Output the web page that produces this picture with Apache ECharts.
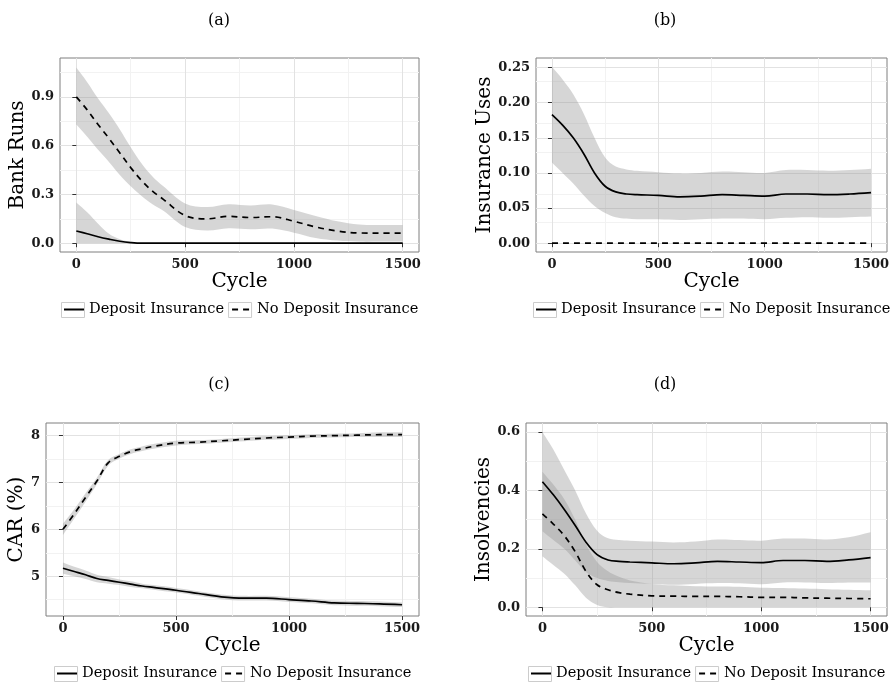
<!DOCTYPE html>
<html><head><meta charset="utf-8">
<script src="https://cdn.jsdelivr.net/npm/echarts@6/dist/echarts.min.js"></script>
<style>html,body{margin:0;padding:0;background:#fff}#c{width:893px;height:687px}</style>
</head><body><div id="c"></div>
<script>
// ---------- data ----------
const cycles = [0,50,100,150,200,250,300,350,400,500,600,700,800,900,1000,1100,1200,1300,1400,1500];
const xTicks = [0,500,1000,1500];
const xMinor = [250,750,1250];
const seriesNames = ['Deposit Insurance','No Deposit Insurance'];

// (a) Bank Runs
const runsDI      = [0.075,0.058,0.040,0.025,0.012,0.004,0,0,0,0,0,0,0,0,0,0,0,0,0,0];
const runsDILow   = [0,0,0,0,0,0,0,0,0,0,0,0,0,0,0,0,0,0,0,0];
const runsDIHigh  = [0.25,0.19,0.12,0.058,0.025,0.008,0,0,0,0,0,0,0,0,0,0,0,0,0,0];
const runsNoDI     = [0.90,0.82,0.73,0.645,0.555,0.465,0.385,0.32,0.27,0.17,0.15,0.165,0.158,0.163,0.135,0.10,0.075,0.063,0.062,0.062];
const runsNoDILow  = [0.73,0.655,0.575,0.50,0.42,0.35,0.29,0.24,0.20,0.10,0.078,0.092,0.086,0.09,0.065,0.032,0.016,0.01,0.01,0.01];
const runsNoDIHigh = [1.08,0.99,0.89,0.80,0.70,0.59,0.49,0.41,0.35,0.245,0.222,0.24,0.232,0.238,0.205,0.168,0.135,0.115,0.112,0.112];
const runsTicks = [0,0.3,0.6,0.9];
const runsMinor = [0.15,0.45,0.75,1.05];

// (b) Insurance Uses
const usesDI     = [0.183,0.168,0.150,0.127,0.100,0.081,0.073,0.070,0.069,0.068,0.066,0.067,0.069,0.068,0.067,0.070,0.070,0.069,0.070,0.072];
const usesDILow  = [0.115,0.100,0.085,0.068,0.053,0.043,0.037,0.035,0.034,0.034,0.033,0.034,0.035,0.035,0.034,0.036,0.037,0.036,0.037,0.038];
const usesDIHigh = [0.251,0.233,0.212,0.184,0.150,0.122,0.109,0.105,0.103,0.101,0.099,0.100,0.102,0.101,0.100,0.104,0.104,0.103,0.104,0.106];
const usesNoDI   = [0,0,0,0,0,0,0,0,0,0,0,0,0,0,0,0,0,0,0,0];
const usesTicks = [0,0.05,0.10,0.15,0.20,0.25];
const usesMinor = [0.025,0.075,0.125,0.175,0.225];

// (c) CAR (%)
const carDI      = [5.17,5.10,5.03,4.95,4.91,4.87,4.83,4.79,4.76,4.70,4.63,4.56,4.53,4.53,4.50,4.47,4.43,4.42,4.41,4.39];
const carDILow   = [5.05,5.00,4.94,4.87,4.84,4.81,4.77,4.74,4.71,4.65,4.58,4.51,4.48,4.48,4.45,4.42,4.38,4.37,4.36,4.34];
const carDIHigh  = [5.29,5.20,5.12,5.03,4.98,4.93,4.89,4.84,4.81,4.75,4.68,4.61,4.58,4.58,4.55,4.52,4.48,4.47,4.46,4.44];
const carNoDI     = [6.00,6.33,6.68,7.03,7.42,7.56,7.66,7.72,7.77,7.84,7.86,7.89,7.92,7.95,7.97,7.99,8.00,8.01,8.02,8.02];
const carNoDILow  = [5.88,6.23,6.59,6.96,7.36,7.51,7.61,7.67,7.72,7.79,7.82,7.85,7.88,7.91,7.93,7.95,7.96,7.97,7.97,7.97];
const carNoDIHigh = [6.12,6.43,6.77,7.10,7.48,7.61,7.71,7.77,7.82,7.89,7.90,7.93,7.96,7.99,8.01,8.03,8.04,8.05,8.07,8.07];
const carTicks = [5,6,7,8];
const carMinor = [4.5,5.5,6.5,7.5];

// (d) Insolvencies
const insDI      = [0.43,0.385,0.335,0.28,0.222,0.18,0.162,0.157,0.155,0.152,0.149,0.152,0.157,0.155,0.153,0.160,0.160,0.157,0.162,0.170];
const insDILow   = [0.26,0.23,0.20,0.16,0.12,0.10,0.09,0.086,0.083,0.08,0.077,0.08,0.083,0.082,0.079,0.085,0.085,0.083,0.085,0.085];
const insDIHigh  = [0.60,0.54,0.47,0.40,0.32,0.262,0.236,0.23,0.228,0.225,0.222,0.225,0.232,0.23,0.228,0.235,0.235,0.232,0.24,0.257];
const insNoDI     = [0.32,0.285,0.245,0.19,0.122,0.077,0.06,0.05,0.045,0.039,0.038,0.037,0.037,0.036,0.034,0.034,0.032,0.031,0.030,0.029];
const insNoDILow  = [0.175,0.145,0.115,0.075,0.032,0.008,0,0,0,0,0,0,0,0,0,0,0,0,0,0];
const insNoDIHigh = [0.464,0.42,0.37,0.30,0.215,0.155,0.123,0.104,0.092,0.08,0.075,0.072,0.071,0.07,0.067,0.066,0.064,0.062,0.06,0.058];
const insTicks = [0,0.2,0.4,0.6];
const insMinor = [0.1,0.3,0.5];

// ---------- panel definitions ----------
const panels = [
  {title:'(a)', yName:'Bank Runs', yMin:-0.054, yMax:1.139, ticks:runsTicks, minor:runsMinor, dec:1,
   di:[runsDI,runsDILow,runsDIHigh], ndi:[runsNoDI,runsNoDILow,runsNoDIHigh]},
  {title:'(b)', yName:'Insurance Uses', yMin:-0.0126, yMax:0.2636, ticks:usesTicks, minor:usesMinor, dec:2,
   di:[usesDI,usesDILow,usesDIHigh], ndi:[usesNoDI,null,null]},
  {title:'(c)', yName:'CAR (%)', yMin:4.15, yMax:8.27, ticks:carTicks, minor:carMinor, dec:0,
   di:[carDI,carDILow,carDIHigh], ndi:[carNoDI,carNoDILow,carNoDIHigh]},
  {title:'(d)', yName:'Insolvencies', yMin:-0.03, yMax:0.631, ticks:insTicks, minor:insMinor, dec:1,
   di:[insDI,insDILow,insDIHigh], ndi:[insNoDI,insNoDILow,insNoDIHigh]}
];
const layout = [
  {left:60,  top:58,  width:359, height:194, yGap:21, tx:219, ty:21,  ly:302},
  {left:536, top:58,  width:351, height:194, yGap:31, tx:665, ty:21,  ly:302},
  {left:46,  top:423, width:373, height:193, yGap:6,  tx:219, ty:385, ly:666},
  {left:526, top:423, width:361, height:193, yGap:21, tx:665, ty:385, ly:666}
];

const FONT = 'DejaVu Serif';
const LEG_FS = 14.6, KEY_W = 20, KEY_H = 16, TEXT_GAP = 5, ITEM_GAP = 7;
const grids=[], xAxes=[], yAxes=[], series=[], legends=[], graphics=[];
const SMOOTH = 0.35;
const pairs = arr => cycles.map((c,k)=>[c, arr[k]]);

// text widths for centring the legends
const mctx = document.createElement('canvas').getContext('2d');
mctx.font = LEG_FS + 'px "DejaVu Serif"';
const tw = seriesNames.map(s => mctx.measureText(s).width);
const legendW = KEY_W + TEXT_GAP + tw[0] + ITEM_GAP + KEY_W + TEXT_GAP + tw[1];

// smooth path through screen points (same control-point idea as ECharts' line smoothing)
function smoothPath(pts, start) {
  let d = (start ? 'M' : 'L') + pts[0][0] + ' ' + pts[0][1];
  const cps = pts.map((p, i) => {
    const prev = pts[Math.max(i-1,0)], next = pts[Math.min(i+1,pts.length-1)];
    const vx = next[0]-prev[0], vy = next[1]-prev[1];
    const d0 = Math.hypot(p[0]-prev[0], p[1]-prev[1]), d1 = Math.hypot(next[0]-p[0], next[1]-p[1]);
    const r = (d0 + d1) ? d1/(d0+d1) : 0.5;
    return {in:[p[0]-vx*SMOOTH*(1-r), p[1]-vy*SMOOTH*(1-r)], out:[p[0]+vx*SMOOTH*r, p[1]+vy*SMOOTH*r]};
  });
  for (let i = 0; i < pts.length-1; i++) {
    const a = cps[i].out, b = cps[i+1].in, q = pts[i+1];
    d += ' C' + a[0] + ' ' + a[1] + ' ' + b[0] + ' ' + b[1] + ' ' + q[0] + ' ' + q[1];
  }
  return d;
}

function ribbonSeries(i, lo, hi) {
  return {
    type:'custom', xAxisIndex:i, yAxisIndex:i, silent:true, z:2, clip:true,
    data: cycles.map((c,k)=>[c, lo[k], hi[k]]),
    encode:{x:0, y:[1,2]},
    renderItem: (params, api) => {
      if (params.dataIndex !== 0) return null;
      const top = [], bot = [];
      for (let k = 0; k < cycles.length; k++) {
        top.push(api.coord([api.value(0, k), api.value(2, k)]));
        bot.push(api.coord([api.value(0, k), api.value(1, k)]));
      }
      const d = smoothPath(top, true) + ' ' + smoothPath(bot.reverse(), false) + ' Z';
      return {type:'path', shape:{pathData:d}, style:{fill:'#999999', opacity:0.4}};
    }
  };
}

panels.forEach((p, i) => {
  const L = layout[i];
  grids.push({left:L.left, top:L.top, width:L.width, height:L.height, show:true,
              borderColor:'#7f7f7f', borderWidth:1, backgroundColor:'#fff'});
  xAxes.push({type:'value', gridIndex:i, min:-75, max:1575,
    name:'Cycle', nameLocation:'middle', nameGap:19,
    nameTextStyle:{fontFamily:FONT, fontSize:20, color:'#000'},
    axisLine:{show:false}, splitLine:{show:false},
    axisTick:{show:true, customValues:xTicks, length:4, lineStyle:{color:'#333'}},
    axisLabel:{customValues:xTicks, margin:6, fontFamily:FONT, fontSize:13, fontWeight:'bold', color:'#1a1a1a',
      formatter: v => String(v)}});
  yAxes.push({type:'value', gridIndex:i, min:p.yMin, max:p.yMax,
    name:p.yName, nameLocation:'middle', nameGap:L.yGap, nameRotate:90,
    nameTextStyle:{fontFamily:FONT, fontSize:20, color:'#000'},
    axisLine:{show:false}, splitLine:{show:false},
    axisTick:{show:true, customValues:p.ticks, length:4, lineStyle:{color:'#333'}},
    axisLabel:{customValues:p.ticks, margin:6, fontFamily:FONT, fontSize:13, fontWeight:'bold', color:'#1a1a1a',
      formatter: v => Number(v).toFixed(p.dec)}});

  // grid lines (through the axes' scales)
  const gl = [];
  xMinor.forEach(v=>gl.push({xAxis:v, lineStyle:{color:'#f2f2f2', width:1, type:'solid'}}));
  p.minor.forEach(v=>gl.push({yAxis:v, lineStyle:{color:'#f2f2f2', width:1, type:'solid'}}));
  xTicks.forEach(v=>gl.push({xAxis:v, lineStyle:{color:'#e2e2e2', width:1, type:'solid'}}));
  p.ticks.forEach(v=>gl.push({yAxis:v, lineStyle:{color:'#e2e2e2', width:1, type:'solid'}}));
  series.push({type:'line', name:'grid'+i, xAxisIndex:i, yAxisIndex:i, data:[], silent:true,
    markLine:{silent:true, z:0, symbol:['none','none'], label:{show:false}, animation:false, data:gl}});

  // ribbons
  if (p.di[1]) series.push(ribbonSeries(i, p.di[1], p.di[2]));
  if (p.ndi[1]) series.push(ribbonSeries(i, p.ndi[1], p.ndi[2]));

  // mean lines
  series.push({type:'line', name:seriesNames[0], xAxisIndex:i, yAxisIndex:i, data:pairs(p.di[0]),
    symbol:'none', smooth:SMOOTH, lineStyle:{color:'#000', width:1.7, type:'solid'}, itemStyle:{color:'#000'}, z:3, silent:true});
  series.push({type:'line', name:seriesNames[1], xAxisIndex:i, yAxisIndex:i, data:pairs(p.ndi[0]),
    symbol:'none', smooth:SMOOTH, lineStyle:{color:'#000', width:1.7, type:[6,5]}, itemStyle:{color:'#000'}, z:3, silent:true});

  // legend, centred under the plot panel, with key boxes
  const lx = Math.round(L.left + L.width/2 - legendW/2);
  legends.push({data:seriesNames, left:lx, top:L.ly, padding:0, width:500,
    itemWidth:KEY_W, itemHeight:KEY_H, itemGap:ITEM_GAP,
    selectedMode:false, itemStyle:{opacity:0, borderWidth:0},
    textStyle:{fontFamily:FONT, fontSize:LEG_FS, color:'#000'}});
  const keyX = [lx, lx + KEY_W + TEXT_GAP + tw[0] + ITEM_GAP];
  keyX.forEach(kx => graphics.push({type:'rect', z:0, silent:true,
    shape:{x:kx - 1.5, y:L.ly + 0.5, width:KEY_W + 3, height:KEY_H - 1},
    style:{fill:'#ffffff', stroke:'#cccccc', lineWidth:1}}));

  graphics.push({type:'text', x:L.tx, y:L.ty, style:{text:p.title, font:'16px "DejaVu Serif"', fill:'#000',
    textAlign:'center', textVerticalAlign:'middle'}});
});

const chart = echarts.init(document.getElementById('c'), null, {renderer:'canvas'});
chart.setOption({
  animation:false,
  backgroundColor:'#fff',
  textStyle:{fontFamily:FONT},
  grid:grids, xAxis:xAxes, yAxis:yAxes, series:series, legend:legends, graphic:graphics
});
</script>
</body></html>
